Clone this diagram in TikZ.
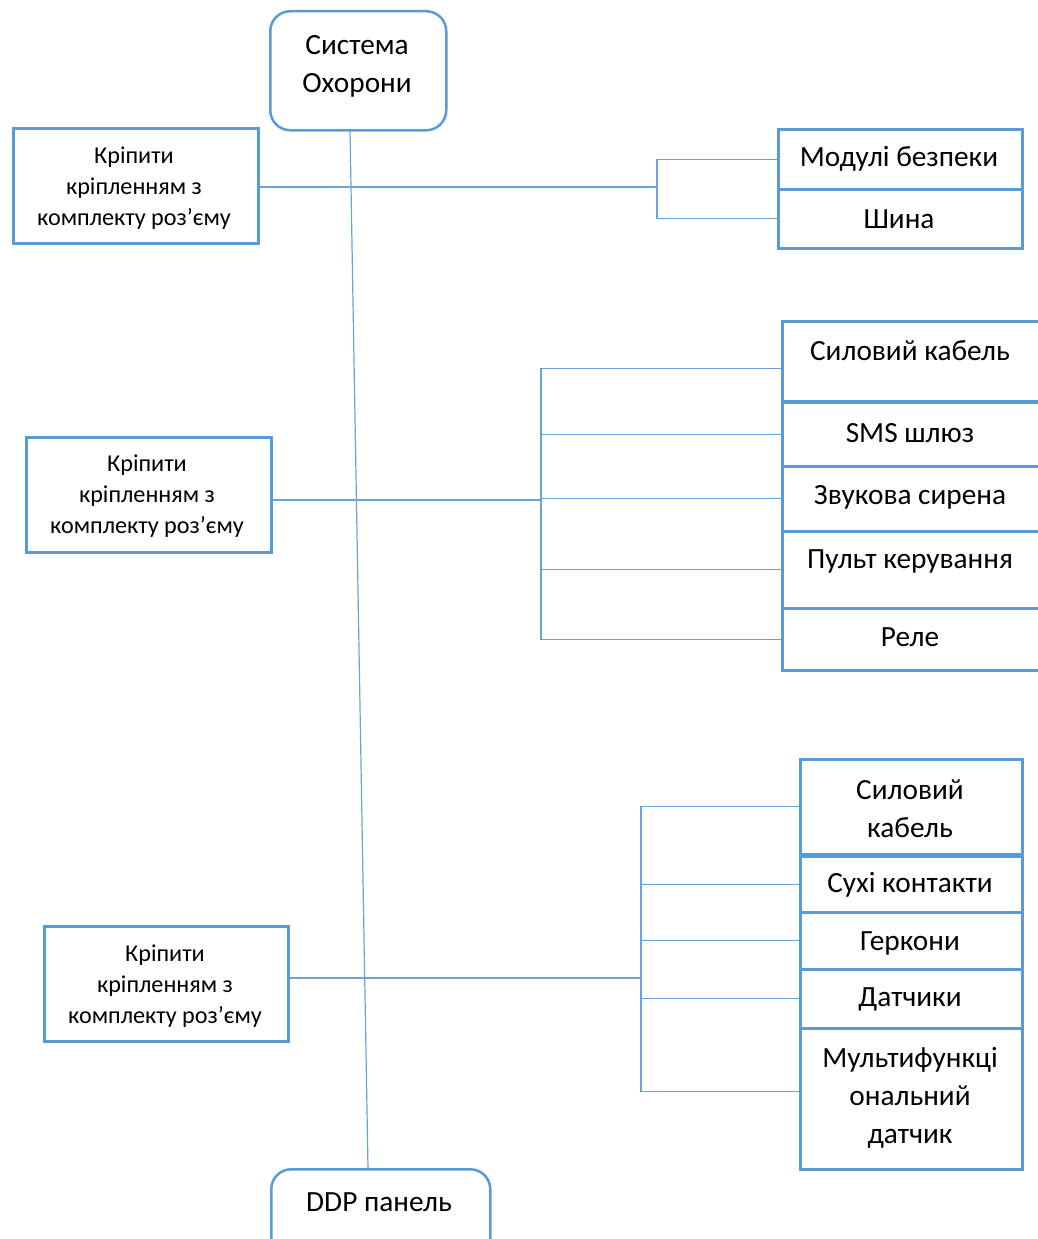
\documentclass[tikz,border=0pt]{standalone}
\usepackage{fontspec}
\setmainfont{Carlito}
\definecolor{bl}{HTML}{5B9BD5}
\definecolor{ln}{HTML}{6AA3D8}
\begin{document}
\begin{tikzpicture}[x=1pt,y=-1pt,
 box/.style={draw=bl, line width=2.5pt, fill=white, anchor=north west, inner sep=0pt},
 rbox/.style={box, rounded corners=20pt},
 big/.style={font=\fontsize{29.3}{38}\selectfont, align=center, inner sep=0pt},
 small/.style={font=\fontsize{24.2}{31}\selectfont, align=center, inner sep=0pt},
 conn/.style={draw=ln, line width=1.2pt}]
\useasboundingbox (0,0) rectangle (1038,1239);
\clip (0,0) rectangle (1038,1239);
\fill[white] (0,0) rectangle (1038,1239);

% main trunk
\coordinate (topc) at (350,129);
\coordinate (botc) at (368,1168);
\draw[conn] (topc) -- (botc);

% top and bottom
\node[rbox, minimum width=176pt, minimum height=119pt] (top) at (269,10) {};
\node[big] (toptxt) at (357,66) {Система\\Охорони};
\node[rbox, minimum width=219pt, minimum height=110pt] (bot) at (270,1168) {};
\node[big] (bottxt) at (379,1202) {DDP панель};

% left boxes
\node[box, minimum width=245pt, minimum height=115pt] (L1) at (12,127) {};
\node[small] (L1t) at (134,188) {Кріпити\\кріпленням з\\комплекту роз’єму};
\node[box, minimum width=245pt, minimum height=115pt] (L2) at (25,436) {};
\node[small] (L2t) at (147,496) {Кріпити\\кріпленням з\\комплекту роз’єму};
\node[box, minimum width=244pt, minimum height=115pt] (L3) at (43,925) {};
\node[small] (L3t) at (165,986) {Кріпити\\кріпленням з\\комплекту роз’єму};

% group 1
\node[box, minimum width=244pt, minimum height=60pt] (m1) at (777,128) {};
\node[big] (m1t) at (899,159) {Модулі безпеки};
\node[box, minimum width=244pt, minimum height=59pt] (m2) at (777,188) {};
\node[big] (m2t) at (899,219) {Шина};

% group 2
\node[box, minimum width=300pt, minimum height=80pt] (s1) at (781,320) {};
\node[big] (s1t) at (910,351) {Силовий кабель};
\node[box, minimum width=300pt, minimum height=64pt] (s2) at (781,401) {};
\node[big] (s2t) at (910,433) {SMS шлюз};
\node[box, minimum width=300pt, minimum height=65pt] (s3) at (781,465) {};
\node[big] (s3t) at (910,497) {Звукова сирена};
\node[box, minimum width=300pt, minimum height=77pt] (s4) at (781,530) {};
\node[big] (s4t) at (910,561) {Пульт керування};
\node[box, minimum width=300pt, minimum height=62pt] (s5) at (781,607) {};
\node[big] (s5t) at (910,637) {Реле};

% group 3
\node[box, minimum width=222pt, minimum height=95pt] (d1) at (799,758) {};
\node[big] (d1t) at (910,809) {Силовий\\кабель};
\node[box, minimum width=222pt, minimum height=56pt] (d2) at (799,855) {};
\node[big] (d2t) at (910,885) {Сухі контакти};
\node[box, minimum width=222pt, minimum height=57pt] (d3) at (799,911) {};
\node[big] (d3t) at (910,943) {Геркони};
\node[box, minimum width=222pt, minimum height=59pt] (d4) at (799,968) {};
\node[big] (d4t) at (910,999) {Датчики};
\node[box, minimum width=222pt, minimum height=141pt] (d5) at (799,1027) {};
\node[big] (d5t) at (910,1098) {Мультифункці\\ональний\\датчик};

% connectors group 1
\coordinate (k1) at (657,187);
\coordinate (e1) at (L1.east |- k1);
\draw[conn] (e1) -- (k1);
\draw[conn] (m1.west) -| (k1) |- (m2.west);

% connectors group 2
\coordinate (k2) at (541,500);
\coordinate (e2) at (L2.east |- k2);
\coordinate (p1) at ([yshift=-7pt]s1.west);
\draw[conn] (e2) -- (k2);
\draw[conn] (p1) -| (k2) |- (s5.west);
\draw[conn] (k2 |- s2.west) -- (s2.west);
\draw[conn] (k2 |- s3.west) -- (s3.west);
\draw[conn] (k2 |- s4.west) -- (s4.west);

% connectors group 3
\coordinate (k3) at (641,978);
\coordinate (e3) at (L3.east |- k3);
\coordinate (q5) at ([yshift=7pt]d5.west);
\draw[conn] (e3) -- (k3);
\draw[conn] (d1.west) -| (k3) |- (q5);
\draw[conn] (k3 |- d2.west) -- (d2.west);
\draw[conn] (k3 |- d3.west) -- (d3.west);
\draw[conn] (k3 |- d4.west) -- (d4.west);
\end{tikzpicture}
\end{document}
